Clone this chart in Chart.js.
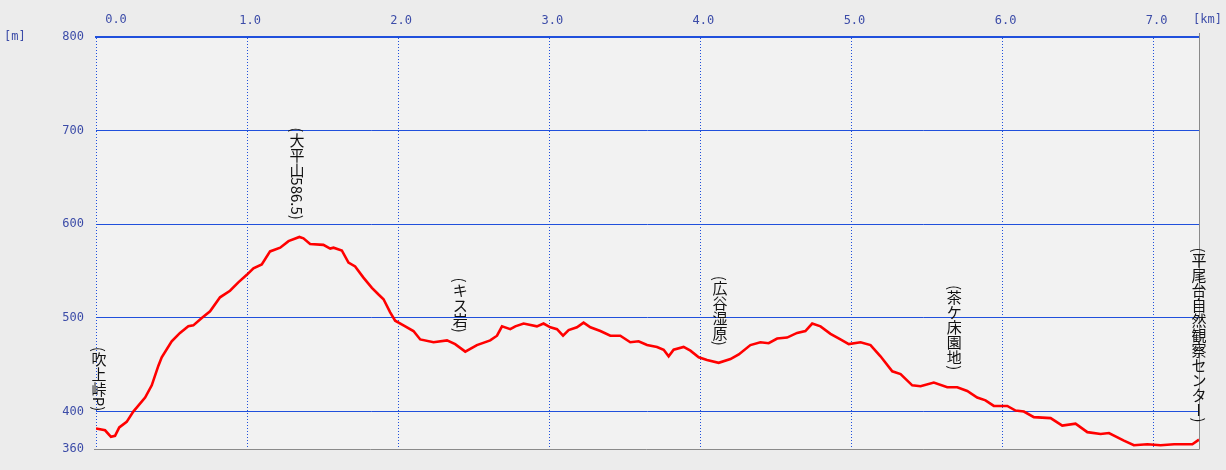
<!DOCTYPE html>
<html>
<head>
<meta charset="utf-8">
<script src="https://cdn.jsdelivr.net/npm/chart.js@4/dist/chart.umd.min.js"></script>
<style>
  html, body { margin: 0; padding: 0; background: #ececec; }
  canvas { display: block; }
</style>
</head>
<body>
<canvas id="profile" width="1226" height="470"></canvas>
<script>
// distance along the trail [km] and elevation [m]
const distKm = [
  0.000, 0.060, 0.099, 0.126, 0.154, 0.203, 0.247, 0.325, 0.369, 0.413,
  0.435, 0.501, 0.556, 0.611, 0.644, 0.700, 0.755, 0.821, 0.887, 0.942,
  0.998, 1.042, 1.097, 1.152, 1.219, 1.274, 1.346, 1.373, 1.417, 1.505,
  1.550, 1.572, 1.627, 1.671, 1.715, 1.770, 1.826, 1.870, 1.903, 1.947,
  1.980, 2.035, 2.101, 2.146, 2.234, 2.323, 2.377, 2.444, 2.521, 2.609,
  2.654, 2.687, 2.742, 2.775, 2.830, 2.918, 2.962, 3.007, 3.051, 3.091,
  3.128, 3.183, 3.227, 3.272, 3.338, 3.404, 3.470, 3.536, 3.591, 3.647,
  3.713, 3.757, 3.790, 3.823, 3.889, 3.934, 3.989, 4.044, 4.121, 4.199,
  4.254, 4.331, 4.397, 4.452, 4.508, 4.574, 4.640, 4.695, 4.740, 4.795,
  4.861, 4.927, 4.982, 5.060, 5.126, 5.192, 5.270, 5.325, 5.402, 5.457,
  5.545, 5.634, 5.700, 5.766, 5.832, 5.887, 5.942, 6.031, 6.086, 6.141,
  6.207, 6.318, 6.395, 6.483, 6.561, 6.649, 6.704, 6.803, 6.869, 6.958,
  7.046, 7.135, 7.256, 7.300
];
const elevM = [
  382, 380, 373, 374, 383, 389, 400, 415, 428, 449,
  458, 475, 484, 491, 492, 500, 507, 522, 529, 538,
  546, 553, 557, 571, 575, 582, 586.5, 585, 579, 578,
  574, 575, 572, 559, 555, 543, 532, 525, 520, 506,
  497, 492, 486, 477, 474, 476, 472, 464, 471, 476,
  481, 491, 488, 491, 494, 491, 494, 490, 488, 481,
  487, 490, 495, 490, 486, 481, 481, 474, 475, 471,
  469, 466, 459, 466, 469, 465, 458, 455, 452, 456,
  461, 471, 474, 473, 478, 479, 484, 486, 494, 491,
  483, 477, 472, 474, 471, 459, 443, 440, 428, 427,
  431, 426, 426, 422, 415, 412, 406, 406, 401, 400,
  394, 393, 385, 387, 378, 376, 377, 369, 364, 365,
  364, 365, 365, 370
];

const xTicks = [0, 1, 2, 3, 4, 5, 6, 7];
const yTicks = [360, 400, 500, 600, 700, 800];

// landmarks along the route
const landmarkNames = ['(吹上峠P)', '(大平山586.5)', '(キス岩)', '(広谷湿原)', '(茶ケ床園地)', '(平尾台自然観察センター)'];
const landmarkKm = [0.02, 1.33, 2.41, 4.13, 5.68, 7.30];
const landmarkElev = [382, 586.5, 466, 452, 426, 370];

const BLUE = '#2050dc';
const LABEL = '#3c4ca8';
const TICK_FONT = { family: 'DejaVu Sans Mono', size: 12 };

function isUpright(ch) {
  const c = ch.codePointAt(0);
  return c >= 0x3000 && ch !== 'ー';
}

function drawVertical(ctx, text, cx, bottom, size) {
  ctx.font = size + 'px "Noto Sans CJK JP"';
  ctx.textAlign = 'center';
  ctx.textBaseline = 'middle';
  const items = [...text].map(ch => {
    const up = isUpright(ch);
    return { ch, up, adv: up ? size : ctx.measureText(ch).width };
  });
  const total = items.reduce((s, it) => s + it.adv, 0);
  let y = bottom - total;
  items.forEach(it => {
    const cy = y + it.adv / 2;
    if (it.up) {
      ctx.fillText(it.ch, cx, cy);
    } else {
      ctx.save();
      ctx.translate(cx, cy);
      ctx.rotate(Math.PI / 2);
      ctx.fillText(it.ch, 0, 0);
      ctx.restore();
    }
    y += it.adv;
  });
}

const framePlugin = {
  id: 'frame',
  beforeDraw(chart) {
    const { ctx, chartArea: a } = chart;
    ctx.save();
    ctx.fillStyle = '#ececec';
    ctx.fillRect(0, 0, chart.width, chart.height);
    ctx.fillStyle = '#f2f2f2';
    ctx.fillRect(a.left, a.top, a.right - a.left, a.bottom - a.top);
    ctx.restore();
  },
  afterDraw(chart) {
    const { ctx, chartArea: a, scales } = chart;
    ctx.save();
    // grey frame on bottom and right
    ctx.strokeStyle = '#8a8a8a';
    ctx.lineWidth = 1;
    ctx.beginPath();
    ctx.moveTo(a.left - 2, Math.round(a.bottom) + 0.5);
    ctx.lineTo(Math.round(a.right) + 0.5, Math.round(a.bottom) + 0.5);
    ctx.lineTo(Math.round(a.right) + 0.5, a.top - 4);
    ctx.stroke();

    // units and the first x label
    ctx.fillStyle = LABEL;
    ctx.font = '12px "DejaVu Sans Mono"';
    ctx.textBaseline = 'middle';
    ctx.textAlign = 'left';
    ctx.fillText('[m]', 4, scales.y.getPixelForValue(800));
    ctx.fillText('[km]', 1193, 20);
    ctx.textAlign = 'center';
    ctx.fillText('0.0', scales.x.getPixelForValue(0) + 20, 20);

    // landmark names, written vertically above the profile
    ctx.fillStyle = '#111';
    landmarkNames.forEach((name, i) => {
      const cx = scales.x.getPixelForValue(landmarkKm[i]);
      const by = scales.y.getPixelForValue(landmarkElev[i]) - 17;
      drawVertical(ctx, name, cx, by, 15);
    });
    ctx.restore();
  }
};

new Chart(document.getElementById('profile'), {
  type: 'line',
  data: {
    datasets: [{
      data: distKm.map((d, i) => ({ x: d, y: elevM[i] })),
      borderColor: '#ff0000',
      borderWidth: 2.6,
      pointRadius: 0,
      tension: 0,
      fill: false,
    }],
  },
  options: {
    responsive: false,
    animation: false,
    events: [],
    layout: { padding: { top: 0, left: 0, right: 27, bottom: 21 } },
    plugins: {
      legend: { display: false },
      tooltip: { enabled: false },
    },
    scales: {
      x: {
        type: 'linear',
        position: 'top',
        min: 0,
        max: 7.3,
        afterBuildTicks: scale => { scale.ticks = xTicks.map(v => ({ value: v })); },
        afterFit: scale => { scale.height = 37; },
        ticks: {
          color: LABEL,
          font: TICK_FONT,
          padding: 9,
          labelOffset: 3,
          maxRotation: 0,
          callback: v => (v === 0 ? '' : v.toFixed(1)),
        },
        grid: { color: BLUE, lineWidth: 1, drawTicks: false },
        border: { display: true, color: BLUE, width: 2, dash: [1, 2] },
      },
      y: {
        min: 360,
        max: 800,
        afterBuildTicks: scale => { scale.ticks = yTicks.map(v => ({ value: v })); },
        afterFit: scale => { scale.width = 96; },
        ticks: {
          color: LABEL,
          font: TICK_FONT,
          padding: 12,
          callback: v => String(v),
        },
        grid: {
          color: c => (c.tick && c.tick.value === 360 ? 'rgba(0,0,0,0)' : BLUE),
          lineWidth: 1,
          drawTicks: false,
        },
        border: { display: false },
      },
    },
  },
  plugins: [framePlugin],
});
</script>
</body>
</html>
